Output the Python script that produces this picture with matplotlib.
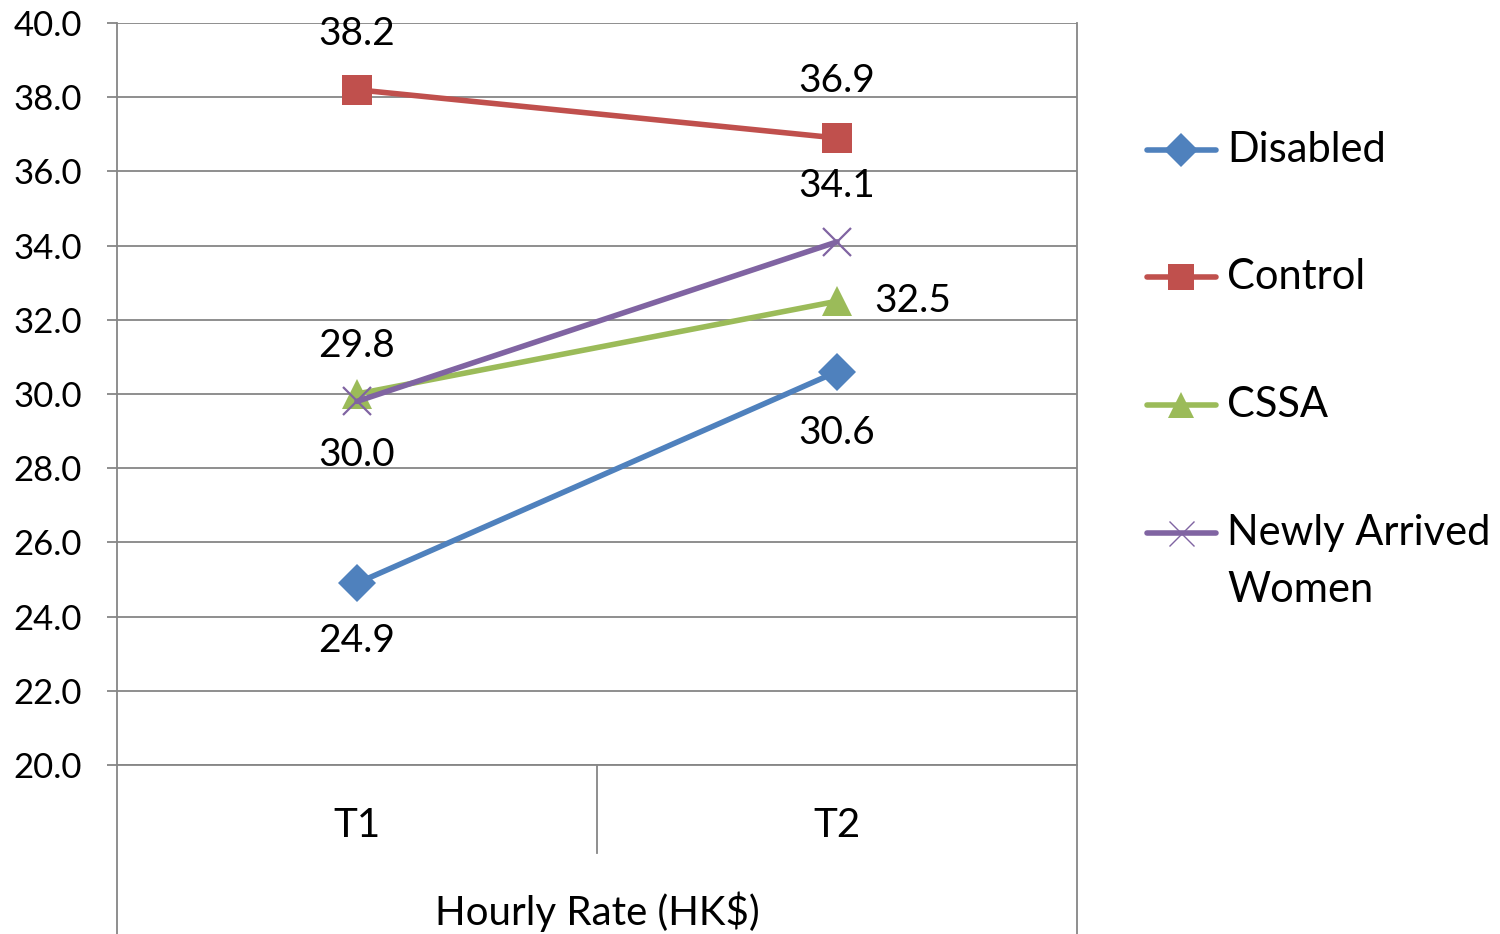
import matplotlib
matplotlib.use("Agg")
import matplotlib.pyplot as plt
from matplotlib.lines import Line2D

plt.rcParams['font.family'] = ['Lato', 'DejaVu Sans']

categories = ["T1", "T2"]
group_label = "Hourly Rate (HK$)"
series_names = ["Disabled", "Control", "CSSA", "Newly Arrived\nWomen"]
disabled = [24.9, 30.6]
control = [38.2, 36.9]
cssa = [30.0, 32.5]
newly_arrived = [29.8, 34.1]
y_ticks = [20, 22, 24, 26, 28, 30, 32, 34, 36, 38, 40]

series = [disabled, control, cssa, newly_arrived]
colors = ["#4F81BD", "#C0504D", "#9BBB59", "#8064A2"]
markers = ["D", "s", "^", "x"]
msizes = [19, 21, 21, 20]
# where each value label sits: (dx, dy) in points, per point
label_pos = [
    [(0, -42), (0, -44)],
    [(0, 40), (0, 41)],
    [(0, -44), (27, 0)],
    [(0, 40), (0, 40)],
]

grid_c = "#868686"

fig = plt.figure(figsize=(15, 9.34), dpi=100)
ax = fig.add_axes([0.078, 0.181, 0.64, 0.7944])

x = list(range(len(categories)))
for vals, c, m, ms, pos in zip(series, colors, markers, msizes, label_pos):
    mew = 1.6 if m == "x" else 0
    ax.plot(x, vals, color=c, lw=4, marker=m, markersize=ms,
            markeredgewidth=mew, markeredgecolor=c, solid_capstyle="round",
            zorder=3, clip_on=False)
    for xi, v, (dx, dy) in zip(x, vals, pos):
        ha = "left" if dx > 0 else "center"
        ax.annotate(f"{v:.1f}", (xi, v), xytext=(dx, dy), textcoords="offset points",
                    ha=ha, va="center", fontsize=28, color="black", zorder=4)

ax.set_xlim(-0.5, 1.5)
ax.set_ylim(20, 40)
ax.set_yticks(y_ticks)
ax.set_yticklabels([f"{t:.1f}" for t in y_ticks])
ax.yaxis.grid(True, color=grid_c, lw=1.3)
ax.set_axisbelow(True)
ax.tick_params(axis="y", length=7.2, width=1.3, color=grid_c, pad=18, labelsize=25)
ax.set_xticks(x)
ax.set_xticklabels(categories)
ax.tick_params(axis="x", length=0, pad=30, labelsize=29)

for s in ["top", "right"]:
    ax.spines[s].set_visible(False)
ax.spines["bottom"].set_color(grid_c)
ax.spines["bottom"].set_linewidth(1.3)
ax.spines["left"].set_visible(False)

# category axis frame running down below the plot
below = -(934 - 765) / 742
for xa in (0, 1):
    ax.add_line(Line2D([xa, xa], [1, below], transform=ax.transAxes, color=grid_c,
                       lw=1.3, clip_on=False))
ax.add_line(Line2D([0.5, 0.5], [0, -88 / 742], transform=ax.transAxes, color=grid_c,
                   lw=1.3, clip_on=False))
ax.text(0.5, -147 / 742, group_label, transform=ax.transAxes, ha="center", va="center",
        fontsize=29)

# legend
leg_y = [150, 277, 405, 533]
for name, c, m, ms, yy in zip(series_names, colors, markers, msizes, leg_y):
    fy = 1 - yy / 934
    fig.add_artist(Line2D([1147 / 1500, 1216 / 1500], [fy, fy], color=c, lw=4,
                          solid_capstyle="round"))
    mew = 1.0 if m == "x" else 0
    fig.add_artist(Line2D([1181 / 1500], [fy], color=c, marker=m, markersize=ms * 0.9,
                          markeredgewidth=mew, markeredgecolor=c, lw=0))
    lines = name.split("\n")
    for k, ln in enumerate(lines):
        fig.text(1227 / 1500, 1 - (yy + k * 57) / 934, ln, ha="left", va="center",
                 fontsize=30)

fig.savefig("out.png", dpi=100)
